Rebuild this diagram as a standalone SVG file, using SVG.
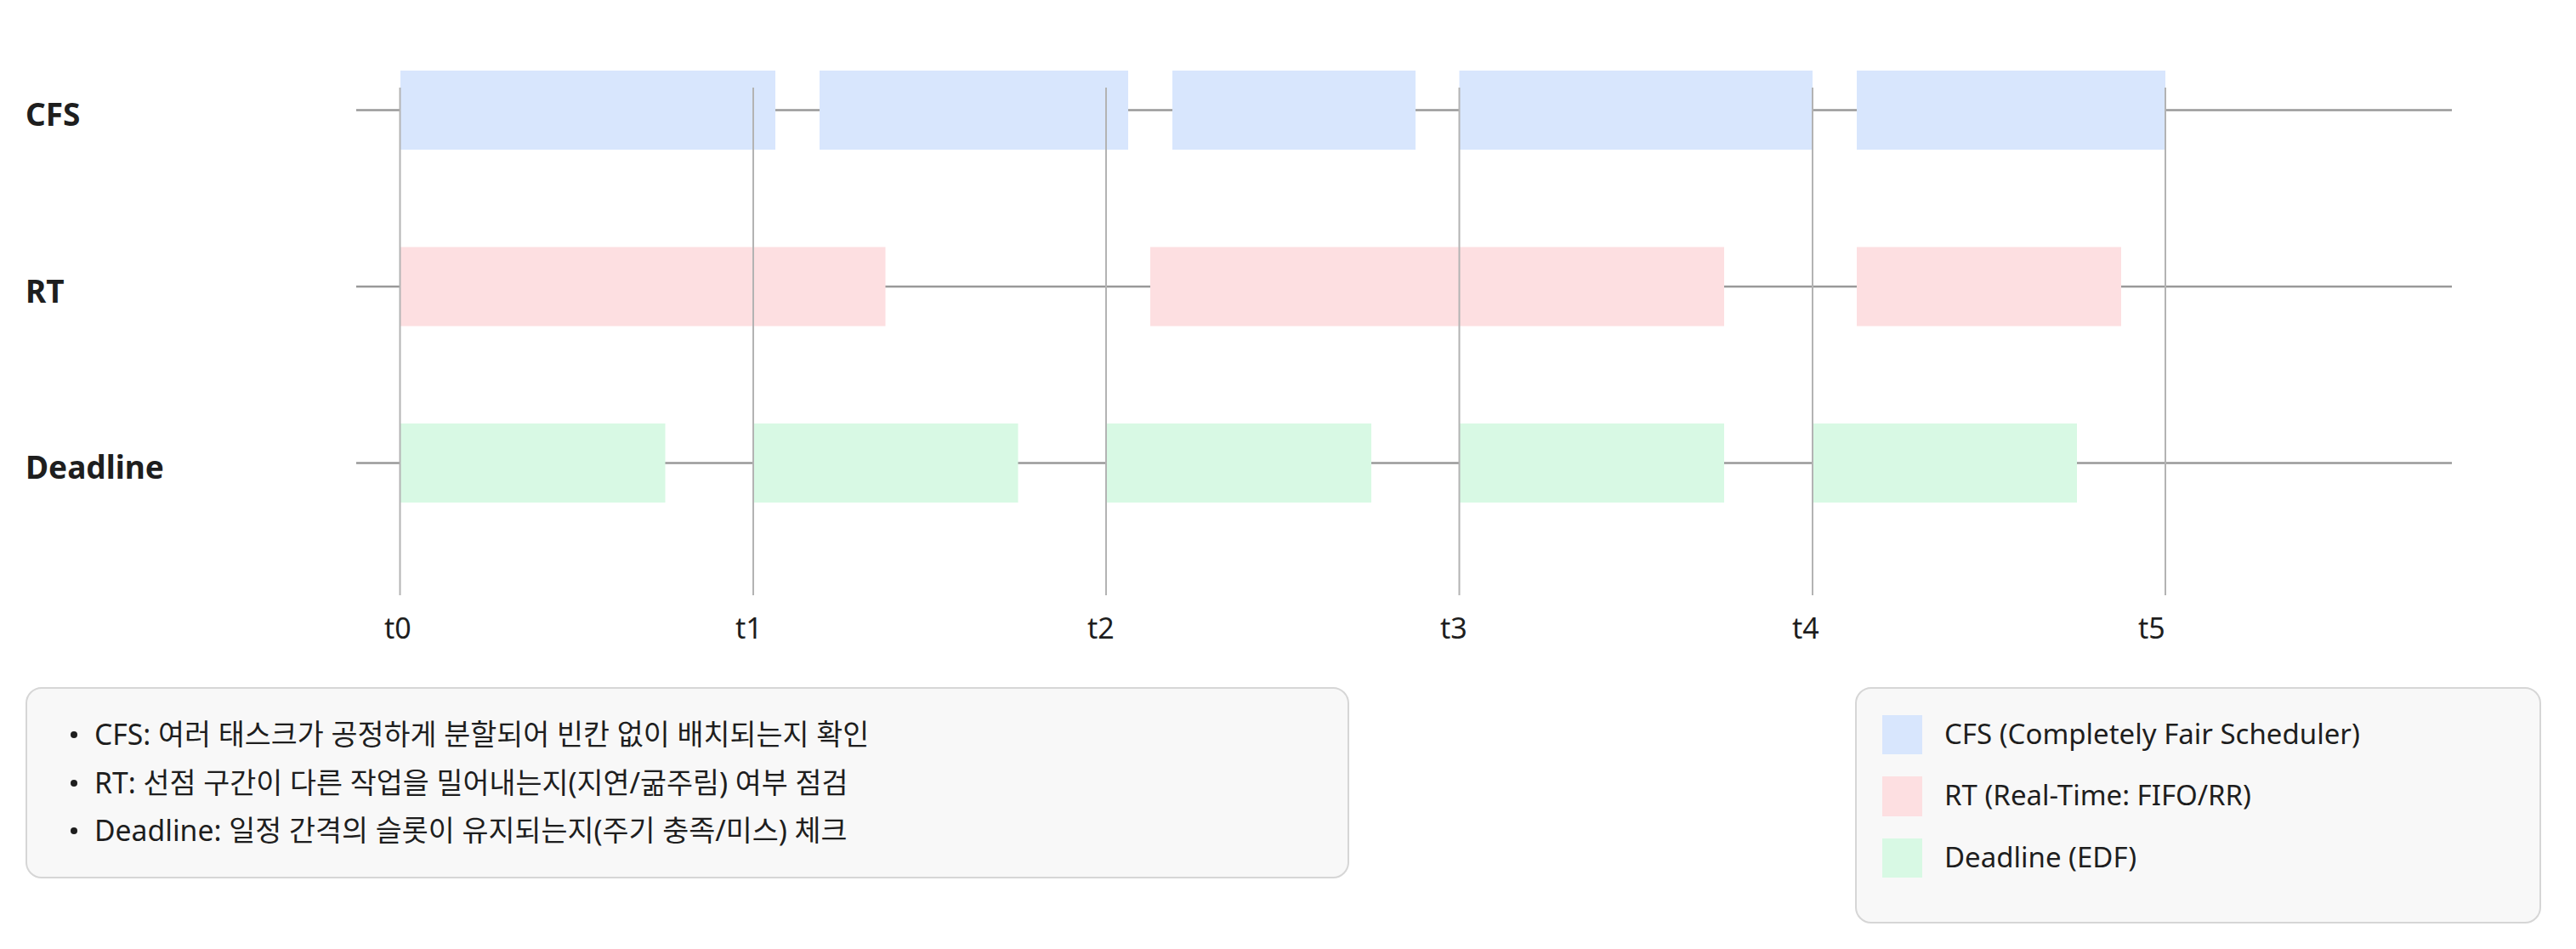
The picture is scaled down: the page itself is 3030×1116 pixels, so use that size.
<svg xmlns="http://www.w3.org/2000/svg" width="3030" height="1116" viewBox="0 0 3030 1116">
<style>
text{font-family:"Noto Sans","Noto Sans CJK KR",sans-serif;fill:#1e1e1e}
.row{font-size:37px;font-weight:700}
.tick{font-size:34px}
.note{font-size:33.7px}
.leg{font-size:33px}
.axis{stroke:#999;stroke-width:2.4;fill:none}
.grid{stroke:#b3b3b3;stroke-width:2;fill:none}
.cfs{fill:#d8e6fd}
.rt{fill:#fddfe1}
.dl{fill:#d8f9e4}
.box{fill:#f8f8f8;stroke:#d6d6d6;stroke-width:2}
</style>
<rect width="3030" height="1116" fill="#ffffff"/>
<g id="connectors">
<line class="axis" x1="419" y1="129.5" x2="2884" y2="129.5"/>
<line class="axis" x1="419" y1="337" x2="2884" y2="337"/>
<line class="axis" x1="419" y1="544.5" x2="2884" y2="544.5"/>
</g>
<g id="row-cfs">
<text class="row" x="30" y="148">CFS</text>
<rect class="cfs" x="471" y="83" width="441" height="93"/>
<rect class="cfs" x="964" y="83" width="363" height="93"/>
<rect class="cfs" x="1379" y="83" width="286" height="93"/>
<rect class="cfs" x="1716.5" y="83" width="415.5" height="93"/>
<rect class="cfs" x="2184" y="83" width="363" height="93"/>
</g>
<g id="row-rt">
<text class="row" x="30" y="356">RT</text>
<rect class="rt" x="471" y="290.5" width="570.5" height="93"/>
<rect class="rt" x="1353" y="290.5" width="675" height="93"/>
<rect class="rt" x="2184" y="290.5" width="311" height="93"/>
</g>
<g id="row-deadline">
<text class="row" x="30" y="563">Deadline</text>
<rect class="dl" x="471" y="498" width="311.5" height="93"/>
<rect class="dl" x="886" y="498" width="311.5" height="93"/>
<rect class="dl" x="1301" y="498" width="312" height="93"/>
<rect class="dl" x="1716.5" y="498" width="311.5" height="93"/>
<rect class="dl" x="2132" y="498" width="311" height="93"/>
</g>
<g id="time-grid">
<line class="grid" x1="470.5" y1="103" x2="470.5" y2="700"/>
<line class="grid" x1="886" y1="103" x2="886" y2="700"/>
<line class="grid" x1="1301" y1="103" x2="1301" y2="700"/>
<line class="grid" x1="1716.5" y1="103" x2="1716.5" y2="700"/>
<line class="grid" x1="2132" y1="103" x2="2132" y2="700"/>
<line class="grid" x1="2547" y1="103" x2="2547" y2="700"/>
<text class="tick" x="452" y="751">t0</text>
<text class="tick" x="865" y="751">t1</text>
<text class="tick" x="1279" y="751">t2</text>
<text class="tick" x="1694" y="751">t3</text>
<text class="tick" x="2108" y="751">t4</text>
<text class="tick" x="2515" y="751">t5</text>
</g>
<g id="notes">
<rect class="box" x="31" y="809" width="1555" height="223" rx="18"/>
<circle cx="87" cy="864" r="4" fill="#1e1e1e"/>
<circle cx="87" cy="921" r="4" fill="#1e1e1e"/>
<circle cx="87" cy="977" r="4" fill="#1e1e1e"/>
<text class="note" x="111" y="876">CFS: 여러 태스크가 공정하게 분할되어 빈칸 없이 배치되는지 확인</text>
<text class="note" x="111" y="933">RT: 선점 구간이 다른 작업을 밀어내는지(지연/굶주림) 여부 점검</text>
<text class="note" x="111" y="989">Deadline: 일정 간격의 슬롯이 유지되는지(주기 충족/미스) 체크</text>
</g>
<g id="legend">
<rect class="box" x="2183" y="809" width="805" height="276" rx="18"/>
<rect class="cfs" x="2214" y="841" width="47" height="46"/>
<rect class="rt" x="2214" y="913" width="47" height="47"/>
<rect class="dl" x="2214" y="986" width="47" height="46"/>
<text class="leg" x="2287" y="875">CFS (Completely Fair Scheduler)</text>
<text class="leg" x="2287" y="947">RT (Real-Time: FIFO/RR)</text>
<text class="leg" x="2287" y="1020">Deadline (EDF)</text>
</g>
</svg>
